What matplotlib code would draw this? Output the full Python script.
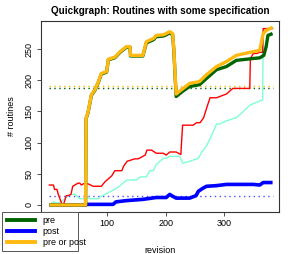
import numpy as np
import matplotlib.pyplot as plt

plt.rcParams['font.family'] = ['Liberation Sans', 'DejaVu Sans']

# pre or post
either_x = [1, 63, 64, 67, 73, 79, 85, 90, 99, 102, 113, 122, 133, 139, 140, 161, 167,
            179, 184, 196, 201, 207, 212, 214, 218, 230, 241, 258, 270, 287, 304, 321,
            350, 361, 367, 372, 383]
either_y = [0, 0, 140, 148, 177, 185, 198, 211, 214, 234, 237, 246, 254, 254, 240, 240, 262,
            267, 272, 273, 275, 278, 275, 250, 178, 187, 195, 198, 209, 222, 230, 240,
            246, 248, 275, 280, 285]

# pre
pre_x = [1, 63, 64, 67, 73, 79, 85, 90, 99, 102, 113, 122, 133, 139, 140, 161, 167,
         179, 184, 196, 201, 207, 212, 214, 218, 230, 241, 258, 270, 287, 304, 321,
         350, 361, 368, 372, 375, 383]
pre_y = [0, 0, 139, 147, 176, 184, 197, 210, 213, 233, 236, 245, 253, 253, 239, 239, 260,
         265, 270, 271, 273, 276, 273, 248, 174, 183, 190, 193, 203, 217, 222, 232,
         235, 236, 240, 254, 272, 275]

# post
post_x = [1, 63, 64, 110, 115, 133, 161, 184, 201, 207, 212, 218, 241, 252, 256, 264,
          270, 287, 304, 350, 361, 367, 372, 383]
post_y = [0, 0, 1, 1, 5, 7, 9, 12, 12, 17, 14, 11, 11, 15, 22, 27, 30, 31, 33, 33, 32, 36, 36, 36]

# red and aquamarine series
red_x = [1, 8, 10, 14, 16, 23, 25, 30, 33, 38, 41, 50, 53, 56, 59, 67, 76, 90, 96, 102,
         108, 113, 125, 128, 134, 147, 153, 165, 168, 176, 184, 196, 201, 207, 218, 226,
         229, 247, 253, 259, 265, 270, 276, 287, 304, 315, 333, 344, 345, 350, 356, 361,
         366, 367, 383]
red_y = [32, 32, 25, 25, 18, 0, 0, 15, 15, 17, 30, 35, 35, 32, 34, 34, 30, 30, 37, 42,
         47, 55, 55, 62, 70, 74, 74, 80, 88, 88, 83, 83, 80, 85, 85, 81,
         128, 128, 132, 132, 140, 155, 172, 172, 178, 187, 187, 187, 235, 243, 243, 245,
         245, 283, 283]
aqua_x = [1, 8, 16, 25, 33, 39, 45, 53, 60, 65, 70, 85, 90, 102, 113, 121, 133, 150,
          156, 167, 173, 179, 184, 196, 201, 207, 214, 224, 227, 229, 241, 256, 262,
          270, 278, 287, 293, 304, 321, 333, 344, 356, 365, 366, 367, 383]
aqua_y = [0, 5, 3, 8, 15, 17, 17, 10, 10, 14, 10, 10, 14, 20, 25, 30, 40, 40,
          45, 45, 55, 55, 65, 75, 75, 78, 78, 78, 72, 67, 70, 75, 85,
          95, 110, 130, 130, 135, 140, 150, 160, 165, 168, 170, 280, 285]

mean_pre = 187.5
mean_either = 191.5
mean_post = 15

fig = plt.figure(figsize=(2.94, 2.54), dpi=100)
ax = fig.add_axes([0.138, 0.165, 0.811, 0.753])

dot = (0, (1, 2.5))
ax.hlines(mean_pre, 1, 383, colors='darkgreen', linestyles=dot, lw=1)
ax.hlines(mean_either, 1, 383, colors='#FFB90F', linestyles=dot, lw=1)
ax.hlines(mean_post, 1, 383, colors='blue', linestyles=dot, lw=1, alpha=0.7)

ax.plot(aqua_x, aqua_y, color='aquamarine', lw=1)
ax.plot(red_x, red_y, color='red', lw=1)
ax.plot(post_x, post_y, color='blue', lw=2.6, solid_capstyle='butt')
ax.plot(pre_x, pre_y, color='darkgreen', lw=2.4, solid_capstyle='butt')
ax.plot(either_x, either_y, color='#FFB90F', lw=2.4, solid_capstyle='butt')

ax.set_xlim(-14, 394)
ax.set_ylim(-11.4, 295.4)
ax.set_xticks([100, 200, 300])
ax.set_yticks([0, 50, 100, 150, 200, 250])
ax.tick_params(labelsize=6.5, length=3, width=0.6, color='#333333', pad=2)
for lab in ax.get_yticklabels():
    lab.set_rotation(90)
    lab.set_va('center')
for s in ax.spines.values():
    s.set_linewidth(0.8)
    s.set_color('#333333')

ax.set_title('Quickgraph: Routines with some specification', fontsize=7.1,
             fontweight='bold', pad=5)
ax.set_xlabel('revision', fontsize=6.5, labelpad=13)
ax.set_ylabel('# routines', fontsize=6.5, labelpad=6)

h1, = ax.plot([], [], color='darkgreen', lw=2.8)
h2, = ax.plot([], [], color='blue', lw=2.8)
h3, = ax.plot([], [], color='#FFB90F', lw=2.8)
leg = fig.legend([h1, h2, h3], ['pre', 'post', 'pre or post'], loc='lower left',
                 bbox_to_anchor=(0.007, 0.01, 0.258, 0.16), mode='expand',
                 fontsize=6.5, fancybox=False, framealpha=1, edgecolor='#555555',
                 handlelength=3.2, handletextpad=0.8, borderpad=0.5, labelspacing=0.2,
                 borderaxespad=0)
leg.get_frame().set_linewidth(0.7)

fig.savefig('out.png', dpi=100)
